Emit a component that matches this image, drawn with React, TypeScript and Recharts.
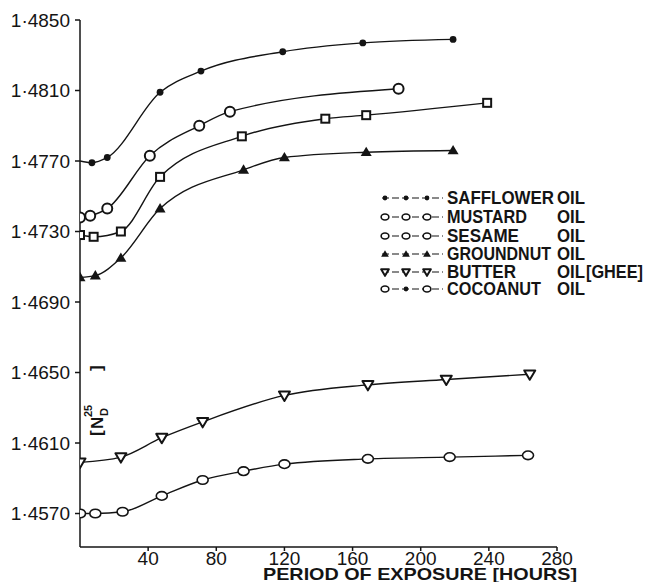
import { Label, Legend, Line, LineChart, XAxis, YAxis } from 'recharts';

// hours of exposure vs refractive index (N_D at 25°)
const hourTicks = [40, 80, 120, 160, 200, 240, 280];
const riTicks = [1.457, 1.461, 1.465, 1.469, 1.473, 1.477, 1.481, 1.485];

const oilNames = ['SAFFLOWER', 'MUSTARD', 'SESAME', 'GROUNDNUT', 'BUTTER', 'COCOANUT'];

const safflowerHours = [0, 7, 16, 47, 71, 119, 166, 219];
const safflowerRi = [1.477, 1.4769, 1.4772, 1.4809, 1.4821, 1.4832, 1.4837, 1.4839];

const mustardHours = [0, 6, 16, 41, 70, 88, 187];
const mustardRi = [1.4738, 1.4739, 1.4743, 1.4773, 1.479, 1.4798, 1.4811];

const sesameHours = [0, 8, 24, 47, 95, 144, 168, 239];
const sesameRi = [1.4728, 1.4727, 1.473, 1.4761, 1.4784, 1.4794, 1.4796, 1.4803];

const groundnutHours = [0, 9, 24, 47, 96, 120, 168, 219];
const groundnutRi = [1.4704, 1.4705, 1.4715, 1.4743, 1.4765, 1.4772, 1.4775, 1.4776];

const butterHours = [0, 24, 48, 72, 120, 169, 215, 264];
const butterRi = [1.4599, 1.4602, 1.4613, 1.4622, 1.4637, 1.4643, 1.4646, 1.4649];

const cocoanutHours = [0, 9, 25, 48, 72, 96, 120, 169, 217, 263];
const cocoanutRi = [1.457, 1.457, 1.4571, 1.458, 1.4589, 1.4594, 1.4598, 1.4601, 1.4602, 1.4603];

const ink = '#141414';
const plain = '"Liberation Sans", Arial, sans-serif';

type Kind = 'dot' | 'ring' | 'square' | 'tri' | 'triDown' | 'oval';

const toRows = (hours: number[], ri: number[]) => hours.map((h, i) => ({ hours: h, ri: ri[i] }));

const series: { name: string; data: { hours: number; ri: number }[]; kind: Kind; legendKinds: Kind[] }[] = [
  { name: oilNames[0], data: toRows(safflowerHours, safflowerRi), kind: 'dot', legendKinds: ['dot', 'dot', 'dot'] },
  { name: oilNames[1], data: toRows(mustardHours, mustardRi), kind: 'ring', legendKinds: ['oval', 'oval', 'oval'] },
  { name: oilNames[2], data: toRows(sesameHours, sesameRi), kind: 'square', legendKinds: ['oval', 'oval', 'oval'] },
  { name: oilNames[3], data: toRows(groundnutHours, groundnutRi), kind: 'tri', legendKinds: ['tri', 'tri', 'tri'] },
  { name: oilNames[4], data: toRows(butterHours, butterRi), kind: 'triDown', legendKinds: ['triDown', 'triDown', 'triDown'] },
  { name: oilNames[5], data: toRows(cocoanutHours, cocoanutRi), kind: 'oval', legendKinds: ['oval', 'dot', 'oval'] },
];

// lettering in the original is condensed, so squeeze each word to its measured width
const legendWordWidth: Record<string, number> = {
  SAFFLOWER: 107,
  MUSTARD: 80,
  SESAME: 72,
  GROUNDNUT: 104,
  BUTTER: 69,
  COCOANUT: 94,
};
const squeeze = 0.8;

function marker(kind: Kind, cx: number, cy: number, key: string | number, small = false) {
  const s = small ? 0.7 : 1;
  switch (kind) {
    case 'dot':
      return <circle key={key} cx={cx} cy={cy} r={3.4 * s} fill={ink} />;
    case 'ring':
      return <circle key={key} cx={cx} cy={cy} r={5} fill="#fff" stroke={ink} strokeWidth={2} />;
    case 'square':
      return <rect key={key} x={cx - 4} y={cy - 4} width={8} height={8} fill="#fff" stroke={ink} strokeWidth={2} />;
    case 'tri': {
      const r = 5.5 * s;
      return <polygon key={key} points={`${cx},${cy - r} ${cx + r},${cy + r * 0.7} ${cx - r},${cy + r * 0.7}`} fill={ink} />;
    }
    case 'triDown': {
      const r = 5.5 * s;
      return (
        <polygon
          key={key}
          points={`${cx - r},${cy - r * 0.7} ${cx + r},${cy - r * 0.7} ${cx},${cy + r}`}
          fill="#fff"
          stroke={ink}
          strokeWidth={2}
          strokeLinejoin="round"
        />
      );
    }
    default:
      return <ellipse key={key} cx={cx} cy={cy} rx={5.5 * s} ry={4.3 * s} fill="#fff" stroke={ink} strokeWidth={1.6} />;
  }
}

function Word({ x, y, width, children }: { x: number; y: number; width: number; children: string }) {
  return (
    <g transform={`translate(${x} ${y}) scale(${squeeze} 1)`}>
      <text
        x={0}
        y={0}
        textLength={width / squeeze}
        lengthAdjust="spacingAndGlyphs"
        fontFamily={plain}
        fontWeight="bold"
        fontSize={19}
        fill={ink}
      >
        {children}
      </text>
    </g>
  );
}

function OilLegend() {
  const rowY = [18, 37, 56, 74, 92, 109];
  return (
    <svg width={268} height={116} style={{ display: 'block' }}>
      {series.map((s, i) => {
        const y = rowY[i];
        const my = y - 6;
        return (
          <g key={s.name}>
            <line x1={2} x2={63} y1={my} y2={my} stroke={ink} strokeWidth={1.2} strokeDasharray="7 3" />
            {s.legendKinds.map((k, j) => marker(k, 5 + j * 21, my, j, true))}
            <Word x={67} y={y} width={legendWordWidth[s.name]}>
              {s.name}
            </Word>
            <Word x={177} y={y} width={28}>
              OIL
            </Word>
            {s.name === 'BUTTER' && (
              <Word x={206} y={y} width={57}>
                [GHEE]
              </Word>
            )}
          </g>
        );
      })}
    </svg>
  );
}

export default function App() {
  return (
    <div style={{ position: 'absolute', left: 0, top: 0, background: '#fff' }}>
      <LineChart width={649} height={582} margin={{ top: 20, right: 92, bottom: 0, left: 0 }}>
        <XAxis
          type="number"
          dataKey="hours"
          domain={[0, 280]}
          ticks={hourTicks}
          allowDataOverflow
          height={35}
          tickSize={4}
          tickMargin={1}
          stroke={ink}
          strokeWidth={1.5}
          tick={{ fill: ink, fontSize: 19, fontFamily: plain }}
        >
          <Label
            content={() => (
              <text
                x={263}
                y={580}
                textLength={314}
                lengthAdjust="spacingAndGlyphs"
                fontFamily={plain}
                fontWeight="bold"
                fontSize={17}
                fill={ink}
              >
                PERIOD OF EXPOSURE [HOURS]
              </text>
            )}
          />
        </XAxis>
        <YAxis
          type="number"
          domain={[1.4551, 1.485]}
          ticks={riTicks}
          allowDataOverflow
          width={80}
          tickSize={5}
          tickMargin={5}
          stroke={ink}
          strokeWidth={1.5}
          tick={{ fill: ink, fontSize: 19, fontFamily: plain }}
          tickFormatter={(v: number) => v.toFixed(4).replace('.', '·')}
        >
          <Label
            content={() => (
              <g transform="translate(97 398) rotate(-90)" fill={ink} fontFamily={plain} fontWeight="bold">
                <text x={-38} y={5} fontSize={17}>[</text>
                <text x={-31} y={6} fontSize={17}>N</text>
                <text x={-19} y={-5} fontSize={11}>25</text>
                <text x={-18} y={11} fontSize={11}>D</text>
                <text x={27} y={5} fontSize={17}>]</text>
              </g>
            )}
          />
        </YAxis>
        <Legend
          layout="vertical"
          align="center"
          verticalAlign="middle"
          wrapperStyle={{ left: 380, top: 186, width: 268 }}
          content={() => <OilLegend />}
        />
        {series.map((s) => (
          <Line
            key={s.name}
            data={s.data}
            dataKey="ri"
            name={s.name}
            type="monotone"
            stroke={ink}
            strokeWidth={1.4}
            isAnimationActive={false}
            dot={(p: any) =>
              s.name === 'SAFFLOWER' && p.index === 0 ? <g key={p.index} /> : marker(s.kind, p.cx, p.cy, p.index)
            }
            activeDot={false}
          />
        ))}
      </LineChart>
    </div>
  );
}
